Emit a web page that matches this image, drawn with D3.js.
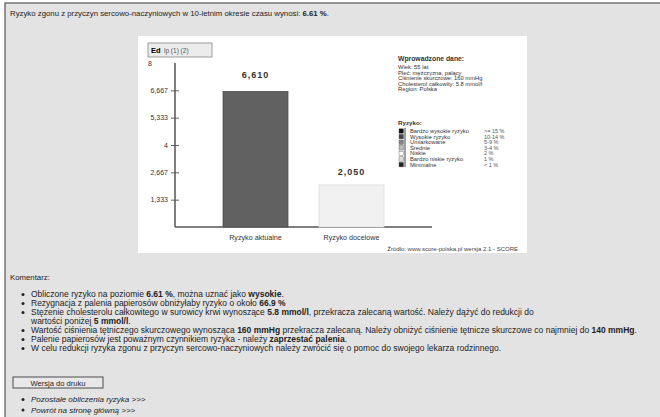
<!DOCTYPE html>
<html lang="pl">
<head>
<meta charset="utf-8">
<script src="https://cdn.jsdelivr.net/npm/d3@7"></script>
<style>
  html, body { margin: 0; padding: 0; background: #fff; }
  svg { display: block; font-family: "Liberation Sans", Arial, sans-serif; }
</style>
</head>
<body>
<svg id="page" width="660" height="417"></svg>
<script>
// --- dane wykresu ---
const categories = ["Ryzyko aktualne", "Ryzyko docelowe"];
const riskValues = [6.61, 2.05];
const valueLabels = ["6,610", "2,050"];
const yTicks = [1.3333, 2.6667, 4, 5.3333, 6.6667, 8];
const yTickLabels = ["1,333", "2,667", "4", "5,333", "6,667", "8"];

const inputLines = ["Wprowadzone dane:", "Wiek: 55 lat", "Płeć: mężczyzna, palący",
  "Ciśnienie skurczowe: 160 mmHg", "Cholesterol całkowity: 5.8 mmol/l", "Region: Polska"];
const legendLabels = ["Bardzo wysokie ryzyko", "Wysokie ryzyko", "Umiarkowane", "Średnie",
  "Niskie", "Bardzo niskie ryzyko", "Minimalne"];
const legendRanges = [">= 15 %", "10-14 %", "5-9 %", "3-4 %", "2 %", "1 %", "< 1 %"];
const legendColors = ["#111", "#444", "#888", "#bbb", "#fff", "#ddd", "#222"];

const comments = [
  [["Obliczone ryzyko na poziomie ", 0], ["6.61 %", 1], [", można uznać jako ", 0], ["wysokie", 1], [".", 0]],
  [["Rezygnacja z palenia papierosów obniżyłaby ryzyko o około ", 0], ["66.9 %", 1]],
  [["Stężenie cholesterolu całkowitego w surowicy krwi wynoszące ", 0], ["5.8 mmol/l", 1], [", przekracza zalecaną wartość. Należy dążyć do redukcji do", 0]],
  [["wartości poniżej ", 0], ["5 mmol/l", 1], [".", 0]],
  [["Wartość ciśnienia tętniczego skurczowego wynosząca ", 0], ["160 mmHg", 1], [" przekracza zalecaną. Należy obniżyć ciśnienie tętnicze skurczowe co najmniej do ", 0], ["140 mmHg", 1], [".", 0]],
  [["Palenie papierosów jest poważnym czynnikiem ryzyka - należy ", 0], ["zaprzestać palenia", 1], [".", 0]],
  [["W celu redukcji ryzyka zgonu z przyczyn sercowo-naczyniowych należy zwrócić się o pomoc do swojego lekarza rodzinnego.", 0]]
];
const commentBullet = [true, true, true, false, true, true, true];
const links = ["Pozostałe obliczenia ryzyka >>>", "Powrót na stronę główną >>>"];

const svg = d3.select("#page");

// tło strony z ramką
svg.append("rect").attr("x", 5).attr("y", 3).attr("width", 660).attr("height", 420)
  .attr("fill", "#e3e3e3").attr("stroke", "#555").attr("stroke-width", 1.2);

function richText(g, x, y, parts, size) {
  const t = g.append("text").attr("x", x).attr("y", y).attr("font-size", size).attr("fill", "#222");
  parts.forEach(([s, b]) => t.append("tspan").text(s).attr("font-weight", b ? "bold" : null));
  return t;
}

richText(svg, 10, 16, [["Ryzyko zgonu z przyczyn sercowo-naczyniowych w 10-letnim okresie czasu wynosi: ", 0], ["6.61 %", 1], [".", 0]], 7.8);

// panel wykresu
svg.append("rect").attr("x", 138).attr("y", 36).attr("width", 389).attr("height", 217).attr("fill", "#fff");

// mały pasek narzędzi
const tb = svg.append("g");
tb.append("rect").attr("x", 148).attr("y", 43).attr("width", 64).attr("height", 14)
  .attr("fill", "#ececec").attr("stroke", "#888").attr("stroke-width", 0.8);
tb.append("text").attr("x", 151).attr("y", 53).attr("font-size", 7.5).attr("font-weight", "bold").text("Ed");
tb.append("text").attr("x", 164).attr("y", 53).attr("font-size", 6.5).attr("fill", "#555").text("lp (1) (2)");

// skale
const y = d3.scaleLinear().domain([0, 8]).range([227, 63]);
const x = d3.scaleBand().domain(categories).range([175, 432]).paddingInner(0.323).paddingOuter(0.5);

// oś Y
const yAxis = d3.axisLeft(y).tickValues(yTicks).tickSize(4)
  .tickFormat((d, i) => yTickLabels[i]);
const ga = svg.append("g").attr("transform", "translate(175,0)").call(yAxis);
ga.select(".domain").remove();
ga.selectAll(".tick line").attr("x2", 4).attr("x1", -4).attr("stroke", "#666");
ga.selectAll(".tick text").attr("font-size", 7).attr("fill", "#333").attr("x", -7)
  .attr("font-family", "Liberation Sans, Arial, sans-serif");
ga.selectAll(".tick").filter(d => d === 8).select("line").remove();
ga.selectAll(".tick").filter(d => d === 8).select("text").attr("x", -27).attr("text-anchor", "start");

svg.append("line").attr("x1", 175).attr("x2", 175).attr("y1", 63).attr("y2", y(0))
  .attr("stroke", "#555").attr("stroke-width", 1.5);
svg.append("line").attr("x1", 175).attr("x2", 432).attr("y1", y(0)).attr("y2", y(0))
  .attr("stroke", "#555").attr("stroke-width", 1.5);

// słupki
const barFill = ["#616161", "#f1f1f1"];
const barStroke = ["#4d4d4d", "#dcdcdc"];
categories.forEach((c, i) => {
  svg.append("rect").attr("x", x(c)).attr("y", y(riskValues[i]))
    .attr("width", x.bandwidth()).attr("height", y(0) - y(riskValues[i]))
    .attr("fill", barFill[i]).attr("stroke", barStroke[i]).attr("stroke-width", 0.8);
  svg.append("text").attr("x", x(c) + x.bandwidth() / 2).attr("y", y(riskValues[i]) - (i ? 10 : 13))
    .attr("text-anchor", "middle").attr("font-size", 9).attr("font-weight", "bold")
    .attr("letter-spacing", 1).attr("fill", "#333").text(valueLabels[i]);
  svg.append("text").attr("x", x(c) + x.bandwidth() / 2).attr("y", 240)
    .attr("text-anchor", "middle").attr("font-size", 7.2).attr("fill", "#333").text(c);
});

// dane wejściowe
inputLines.forEach((s, i) => {
  svg.append("text").attr("x", 398).attr("y", 61 + (i === 0 ? 0 : 3 + i * 5.4))
    .attr("font-size", i === 0 ? 6.8 : 5.8).attr("font-weight", i === 0 ? "bold" : null).attr("fill", "#333").text(s);
});

// legenda
svg.append("text").attr("x", 398).attr("y", 125).attr("font-size", 6.2).attr("font-weight", "bold")
  .attr("fill", "#333").text("Ryzyko:");
svg.append("line").attr("x1", 405).attr("x2", 405).attr("y1", 128).attr("y2", 167)
  .attr("stroke", "#444").attr("stroke-width", 1);
legendLabels.forEach((s, i) => {
  const yy = 131 + i * 5.6;
  svg.append("rect").attr("x", 399).attr("y", yy - 2.2).attr("width", 4.5).attr("height", 4.5)
    .attr("fill", legendColors[i]).attr("stroke", "#555").attr("stroke-width", 0.4);
  svg.append("text").attr("x", 410).attr("y", yy + 2).attr("font-size", 5.8).attr("fill", "#333").text(s);
  svg.append("text").attr("x", 484).attr("y", yy + 2).attr("font-size", 5.5).attr("fill", "#555").text(legendRanges[i]);
});

svg.append("text").attr("x", 518).attr("y", 251).attr("text-anchor", "end").attr("font-size", 6)
  .attr("fill", "#444").text("Źródło: www.score-polska.pl wersja 2.1 - SCORE");

// komentarz
svg.append("text").attr("x", 10).attr("y", 280).attr("font-size", 7.8).attr("fill", "#222").text("Komentarz:");
let yy = 297;
comments.forEach((parts, i) => {
  if (commentBullet[i]) svg.append("circle").attr("cx", 23).attr("cy", yy - 2.6).attr("r", 1.5).attr("fill", "#222");
  richText(svg, 31, yy, parts, 8.5);
  yy += 9;
});

// przycisk
svg.append("rect").attr("x", 13).attr("y", 377).attr("width", 90).attr("height", 11)
  .attr("fill", "#e8e8e8").attr("stroke", "#666").attr("stroke-width", 1.2);
svg.append("text").attr("x", 58).attr("y", 385.5).attr("text-anchor", "middle").attr("font-size", 7.6)
  .attr("fill", "#222").text("Wersja do druku");

links.forEach((s, i) => {
  const ly = 402 + i * 10.5;
  svg.append("circle").attr("cx", 23).attr("cy", ly - 2.6).attr("r", 1.5).attr("fill", "#222");
  svg.append("text").attr("x", 31).attr("y", ly).attr("font-size", 8).attr("font-style", "italic")
    .attr("fill", "#222").text(s);
});
</script>
</body>
</html>
